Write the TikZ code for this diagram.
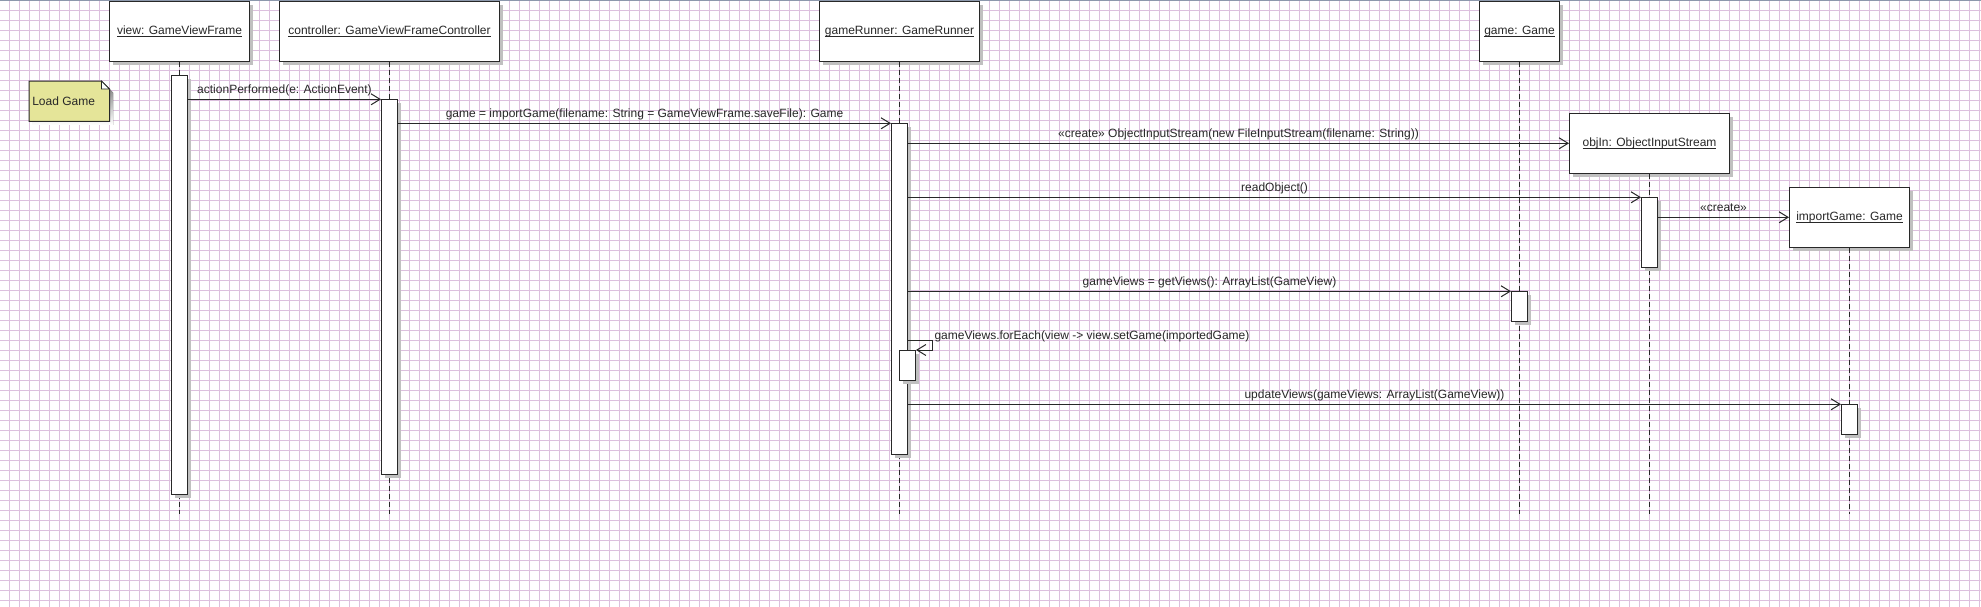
\documentclass[tikz,border=0pt]{standalone}
\usepackage{fontspec}
\usepackage{amsmath}
\setmainfont{Liberation Sans}
\usetikzlibrary{arrows.meta,shadows}
\definecolor{gridc}{RGB}{220,192,222}
\definecolor{ink}{RGB}{40,40,40}
\definecolor{shade}{RGB}{192,192,192}
\definecolor{notefill}{RGB}{229,229,153}
\definecolor{topbar}{RGB}{140,152,172}
\newcommand\objname[1]{\underline{\smash[b]{#1}}}
\begin{document}
\begin{tikzpicture}[x=1pt,y=-1pt,
  font=\fontsize{12}{14}\selectfont,
  every node/.style={text=ink},
  shd/.style={general shadow={fill=shade, shadow xshift=3.5pt, shadow yshift=-3.5pt}},
  objbox/.style={draw=ink, line width=1pt, fill=white, shd, minimum height=60pt, inner sep=0pt},
  actbox/.style={draw=ink, line width=1pt, fill=white, shd, minimum width=16pt, inner sep=0pt, anchor=north},
  lifeline/.style={draw=ink, line width=0.8pt, dash pattern=on 5pt off 3pt},
  msg/.style={draw=ink, line width=1pt, -{Straight Barb[length=9pt,width=11pt]}},
  lbl/.style={midway, anchor=base, yshift=6pt, inner sep=0pt},
  gridline/.style={draw=gridc, line width=1.1pt},
]
\useasboundingbox (0,0) rectangle (1981,607);
\fill[white] (0,0) rectangle (1981,607);
% grid
\foreach \gx in {9.5,19.5,...,1979.5} \draw[gridline] (\gx,0) -- (\gx,607);
\foreach \gy in {10.5,20.5,...,600.5} \draw[gridline] (0,\gy) -- (1981,\gy);
\fill[topbar] (0,0) rectangle (1981,1.4);

\coordinate (endy) at (0,514);
\coordinate (selfy) at (0,340.3);

% object headers
\node[objbox, minimum width=140pt] (view) at (179.5,31.3) {\objname{view: GameViewFrame}};
\node[objbox, minimum width=220pt] (ctrl) at (389.5,31.3) {\objname{controller: GameViewFrameController}};
\node[objbox, minimum width=160pt] (run) at (899.5,31.3) {\objname{gameRunner: GameRunner}};
\node[objbox, minimum width=80pt] (game) at (1519.5,31.3) {\objname{game: Game}};
\node[objbox, minimum width=160pt] (objin) at (1649.5,143.3) {\objname{objIn: ObjectInputStream}};
\node[objbox, minimum width=120pt] (imp) at (1849.5,217.3) {\objname{importGame: Game}};

% lifelines
\foreach \o in {view,ctrl,run,game,objin,imp}
  \draw[lifeline] (\o.south) -- (\o.south |- endy);

% note
\node[inner sep=0pt, minimum width=80pt, minimum height=40pt] (note) at (69.3,101.3) {};
\fill[shade] ([shift={(3.5pt,-3.5pt)}]note.north west) -- ([shift={(-4.5pt,-3.5pt)}]note.north east)
  -- ([shift={(3.5pt,-11.5pt)}]note.north east) -- ([shift={(3.5pt,-3.5pt)}]note.south east)
  -- ([shift={(3.5pt,-3.5pt)}]note.south west) -- cycle;
\filldraw[fill=notefill, draw=ink, line width=1pt] (note.north west) -- ([xshift=-8pt]note.north east)
  -- ([yshift=-8pt]note.north east) -- (note.south east) -- (note.south west) -- cycle;
\filldraw[fill=white, draw=ink, line width=0.8pt] ([xshift=-8pt]note.north east)
  -- ([xshift=-8pt,yshift=-8pt]note.north east) -- ([yshift=-8pt]note.north east) -- cycle;
\node[anchor=west, inner sep=0pt] (notetext) at ([xshift=3pt]note.west) {Load Game};

% activations
\node[actbox, minimum height=419pt] (aview) at (179.5,75.3) {};
\node[actbox, minimum height=375pt] (actrl) at (389.5,99.3) {};
\node[actbox, minimum height=331pt] (arun) at (899.5,123.3) {};
\node[actbox, minimum height=30pt] (anest) at (907.5,350) {};
\node[actbox, minimum height=70pt] (aobj) at (1649.5,197.3) {};
\node[actbox, minimum height=30pt] (agame) at (1519.5,291.3) {};
\node[actbox, minimum height=30pt] (aimp) at (1849.5,404.3) {};

% messages
\draw[msg] (aview.east |- actrl.north west) -- (actrl.north west)
  node[lbl] {actionPerformed(e: ActionEvent)};
\draw[msg] (actrl.east |- arun.north west) -- (arun.north west)
  node[lbl] {game = importGame(filename: String = GameViewFrame.saveFile): Game};
\draw[msg] (arun.east |- objin.west) -- (objin.west)
  node[lbl] {«create» ObjectInputStream(new FileInputStream(filename: String))};
\draw[msg] (arun.east |- aobj.north west) -- (aobj.north west)
  node[lbl] {readObject()};
\draw[msg] (aobj.east |- imp.west) -- (imp.west)
  node[lbl] {«create»};
\draw[msg] (arun.east |- agame.north west) -- (agame.north west)
  node[lbl] {gameViews = getViews(): ArrayList(GameView)};
\draw[msg] (arun.east |- selfy) -- ++(24,0) |- (anest.north east);
\node[anchor=base west, inner sep=0pt] (selflbl) at (934.3,339) {gameViews.forEach(view -> view.setGame(importedGame)};
\draw[msg] (arun.east |- aimp.north west) -- (aimp.north west)
  node[lbl] {updateViews(gameViews: ArrayList(GameView))};
\end{tikzpicture}
\end{document}
